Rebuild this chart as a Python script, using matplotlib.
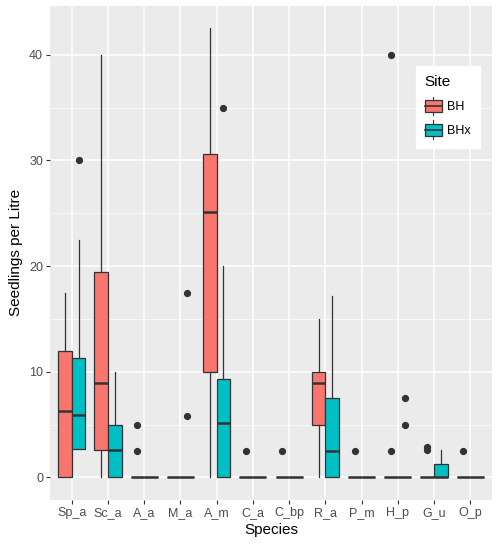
import matplotlib
matplotlib.use("Agg")
import matplotlib.pyplot as plt
from matplotlib.patches import Rectangle
from matplotlib.lines import Line2D
from matplotlib.legend_handler import HandlerBase

plt.rcParams["font.family"] = ["Liberation Sans", "DejaVu Sans"]

# species on the x axis
species = ["Sp_a", "Sc_a", "A_a", "M_a", "A_m", "C_a", "C_bp", "R_a", "P_m", "H_p", "G_u", "O_p"]

# Site BH box stats
bh_lo = [0, 0, 0, 0, 0, 0, 0, 0, 0, 0, 0, 0]
bh_q1 = [0, 2.6, 0, 0, 10, 0, 0, 5, 0, 0, 0, 0]
bh_med = [6.3, 8.9, 0, 0, 25.1, 0, 0, 8.9, 0, 0, 0, 0]
bh_q3 = [12, 19.4, 0, 0, 30.6, 0, 0, 10, 0, 0, 0, 0]
bh_hi = [17.5, 40, 0, 0, 42.5, 0, 0, 15, 0, 0, 0, 0]
bh_out = [[], [], [2.5, 5], [], [], [2.5], [2.5], [], [2.5], [2.5, 40], [2.6, 2.9], [2.5]]

# Site BHx box stats
bhx_lo = [2.7, 0, 0, 0, 0, 0, 0, 0, 0, 0, 0, 0]
bhx_q1 = [2.7, 0, 0, 0, 0, 0, 0, 0, 0, 0, 0, 0]
bhx_med = [5.9, 2.6, 0, 0, 5.1, 0, 0, 2.5, 0, 0, 0, 0]
bhx_q3 = [11.3, 5, 0, 0, 9.3, 0, 0, 7.5, 0, 0, 1.25, 0]
bhx_hi = [22.5, 10, 0, 0, 20, 0, 0, 17.2, 0, 0, 2.6, 0]
bhx_out = [[30], [], [], [5.8, 17.5], [35], [], [], [], [], [5, 7.5], [], []]

sites = ["BH", "BHx"]
colors = ["#F8766D", "#00BFC4"]
edge = "#333333"


def make_stats(lo, q1, med, q3, hi, out):
    return [dict(whislo=lo[i], q1=q1[i], med=med[i], q3=q3[i], whishi=hi[i], fliers=out[i])
            for i in range(len(lo))]


all_stats = [make_stats(bh_lo, bh_q1, bh_med, bh_q3, bh_hi, bh_out),
             make_stats(bhx_lo, bhx_q1, bhx_med, bhx_q3, bhx_hi, bhx_out)]

fig = plt.figure(figsize=(5.0, 5.48), dpi=100)
ax = fig.add_axes([0.1, 0.088, 0.884, 0.901])
ax.set_facecolor("#EBEBEB")

w = 0.375
for k, stats in enumerate(all_stats):
    pos = [i + (k - 0.5) * w for i in range(len(species))]
    ax.bxp(stats, positions=pos, widths=w, patch_artist=True, showcaps=False,
           boxprops=dict(facecolor=colors[k], edgecolor=edge, linewidth=0.9),
           medianprops=dict(color=edge, linewidth=1.8),
           whiskerprops=dict(color=edge, linewidth=0.9),
           flierprops=dict(marker="o", markerfacecolor=edge, markeredgecolor=edge, markersize=4.2),
           manage_ticks=False, zorder=3)

ax.set_xlim(-0.6, len(species) - 0.4)
ax.set_ylim(-2.125, 44.625)
ax.set_xticks(range(len(species)))
ax.set_xticklabels(species)
ax.set_yticks([0, 10, 20, 30, 40])
ax.set_yticks([5, 15, 25, 35], minor=True)
ax.grid(True, which="major", color="white", linewidth=1.1, zorder=0)
ax.grid(True, which="minor", axis="y", color="white", linewidth=0.5, zorder=0)
ax.set_axisbelow(True)
for s in ax.spines.values():
    s.set_visible(False)
ax.tick_params(axis="both", which="major", length=3, width=0.8, color=edge,
               labelcolor="#4D4D4D", labelsize=9, pad=2)
ax.tick_params(axis="y", which="minor", length=0)
ax.set_xlabel("Species", fontsize=11, labelpad=3)
ax.set_ylabel("Seedlings per Litre", fontsize=11, labelpad=4)


class BoxHandler(HandlerBase):
    def create_artists(self, legend, orig, xd, yd, width, height, fontsize, trans):
        x0, y0 = -xd, -yd
        cx = x0 + width / 2
        bw = width
        rect = Rectangle((cx - bw / 2, y0 + height * 0.18), bw, height * 0.64,
                         facecolor=orig.get_facecolor(), edgecolor=edge, linewidth=0.9, transform=trans)
        med = Line2D([cx - bw / 2, cx + bw / 2], [y0 + height * 0.5] * 2, color=edge, linewidth=1.2, transform=trans)
        top = Line2D([cx, cx], [y0 + height * 0.82, y0 + height], color=edge, linewidth=0.8, transform=trans)
        bot = Line2D([cx, cx], [y0, y0 + height * 0.18], color=edge, linewidth=0.8, transform=trans)
        return [rect, med, top, bot]


handles = [Rectangle((0, 0), 1, 1, facecolor=c) for c in colors]
leg = ax.legend(handles, sites, title="Site", loc="upper left", bbox_to_anchor=(0.828, 0.879),
                handler_map={Rectangle: BoxHandler()}, frameon=True, fancybox=False,
                edgecolor="white", facecolor="white", framealpha=1, fontsize=9,
                title_fontsize=11, handlelength=1.4, handleheight=1.9, handletextpad=0.4,
                borderpad=0.7, labelspacing=0.4, borderaxespad=0)
leg._legend_box.align = "left"
leg._legend_box.sep = 6
leg.set_zorder(5)

fig.savefig("out.png", dpi=100)
